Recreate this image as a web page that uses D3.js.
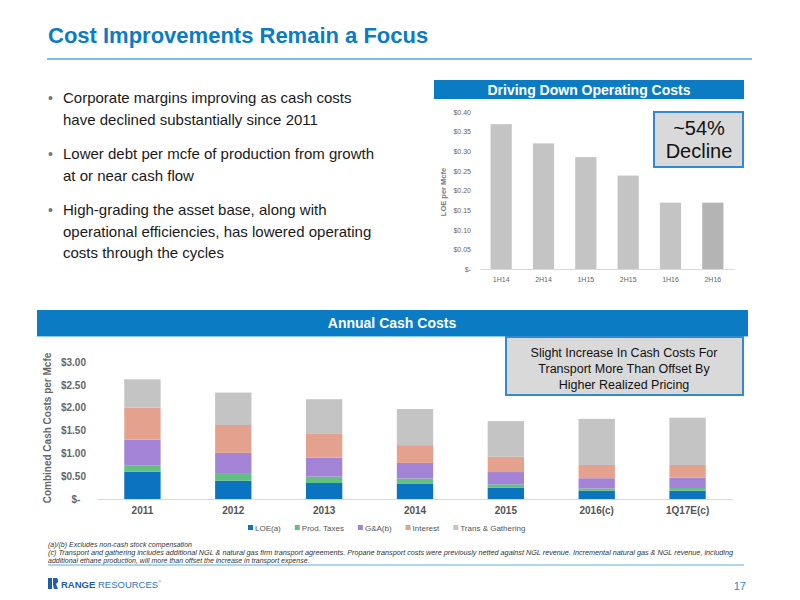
<!DOCTYPE html>
<html>
<head>
<meta charset="utf-8">
<script src="https://cdn.jsdelivr.net/npm/d3@7"></script>
<style>
  body { margin: 0; background: #fff; }
  svg text { font-family: "Liberation Sans", Arial, sans-serif; }
</style>
</head>
<body>
<svg id="slide" width="800" height="600"></svg>
<script>
// top chart: LOE per Mcfe by half-year
let periods = ["1H14", "2H14", "1H15", "2H15", "1H16", "2H16"];
let loePerMcfe = [0.369, 0.320, 0.285, 0.238, 0.169, 0.169];
let topTicks = [0, 0.05, 0.10, 0.15, 0.20, 0.25, 0.30, 0.35, 0.40];

// bottom chart: annual cash costs, stacked
let years = ["2011", "2012", "2013", "2014", "2015", "2016(c)", "1Q17E(c)"];
let loe = [0.60, 0.40, 0.35, 0.34, 0.25, 0.18, 0.18];
let prodTaxes = [0.14, 0.15, 0.14, 0.11, 0.07, 0.05, 0.06];
let gna = [0.56, 0.46, 0.415, 0.34, 0.27, 0.225, 0.225];
let interest = [0.70, 0.61, 0.52, 0.39, 0.335, 0.29, 0.28];
let transGathering = [0.62, 0.71, 0.76, 0.79, 0.78, 1.01, 1.035];
let seriesNames = ["LOE(a)", "Prod. Taxes", "G&A(b)", "Interest", "Trans & Gathering"];
let bottomTicks = [0, 0.5, 1.0, 1.5, 2.0, 2.5, 3.0];

let bullets = [
    ["Corporate margins improving as cash costs", "have declined substantially since 2011"],
    ["Lower debt per mcfe of production from growth", "at or near cash flow"],
    ["High-grading the asset base, along with", "operational efficiencies, has lowered operating", "costs through the cycles"]
];

let footnotes = [
    "(a)/(b) Excludes  non-cash stock compensation",
    "(c) Transport and gathering includes additional NGL & natural gas firm transport agreements.  Propane transport costs were previously netted against NGL revenue.  Incremental natural gas & NGL revenue, including",
    "additional ethane production, will more than offset the increase in transport expense."
];

let blue = "#0b7cc4";
let svg = d3.select("#slide");

// title
svg.append("text")
    .attr("x", 48).attr("y", 43)
    .attr("font-size", 22).attr("font-weight", "bold")
    .attr("fill", blue)
    .text("Cost Improvements Remain a Focus");

svg.append("line")
    .attr("x1", 47).attr("x2", 752).attr("y1", 59).attr("y2", 59)
    .attr("stroke", "#4ea6dc").attr("stroke-width", 1.5);

// bullets
let by = 103;
bullets.forEach(function (lines) {
    svg.append("text").attr("x", 48).attr("y", by)
        .attr("font-size", 14).attr("fill", "#777").text("•");
    lines.forEach(function (l, i) {
        svg.append("text").attr("x", 63).attr("y", by + i * 21.5)
            .attr("font-size", 15).attr("fill", "#1a1a1a").text(l);
    });
    by += lines.length * 21.5 + 13;
});

// ---- top right chart ----
svg.append("rect").attr("x", 434).attr("y", 80).attr("width", 310).attr("height", 19).attr("fill", blue);
svg.append("text").attr("x", 589).attr("y", 95)
    .attr("text-anchor", "middle").attr("font-size", 14).attr("font-weight", "bold")
    .attr("fill", "#fff").text("Driving Down Operating Costs");

let xTop = d3.scaleBand().domain(periods).range([480, 734]).paddingInner(0.5).paddingOuter(0.25);
let yTop = d3.scaleLinear().domain([0, 0.4]).range([269, 112]);

svg.append("g").selectAll("rect")
    .data(periods)
    .join("rect")
    .attr("x", d => xTop(d))
    .attr("width", xTop.bandwidth())
    .attr("y", (d, i) => yTop(loePerMcfe[i]))
    .attr("height", (d, i) => yTop(0) - yTop(loePerMcfe[i]))
    .attr("fill", (d, i) => i === periods.length - 1 ? "#b4b4b4" : "#c4c4c4");

let topYAxis = svg.append("g")
    .attr("transform", "translate(471,0)")
    .call(d3.axisLeft(yTop).tickValues(topTicks).tickSize(0).tickPadding(0)
        .tickFormat(d => d === 0 ? "$-" : "$" + d.toFixed(2)));
topYAxis.select(".domain").remove();
topYAxis.selectAll("text").attr("font-size", 7).attr("fill", "#666");

let topXAxis = svg.append("g")
    .attr("transform", "translate(0,269)")
    .call(d3.axisBottom(xTop).tickSize(0).tickPadding(8));
topXAxis.select(".domain").attr("stroke", "#d9d9d9");
topXAxis.selectAll("text").attr("font-size", 7).attr("fill", "#666");

svg.append("text")
    .attr("transform", "translate(446,192) rotate(-90)")
    .attr("text-anchor", "middle").attr("font-size", 7.5).attr("font-weight", "bold")
    .attr("fill", "#777").text("LOE per Mcfe");

svg.append("rect").attr("x", 654).attr("y", 112).attr("width", 89).attr("height", 55)
    .attr("fill", "#d9d9d9").attr("stroke", "#2f8ad0").attr("stroke-width", 2);
svg.append("text").attr("x", 699).attr("y", 135).attr("text-anchor", "middle")
    .attr("font-size", 20).attr("fill", "#111").text("~54%");
svg.append("text").attr("x", 699).attr("y", 158).attr("text-anchor", "middle")
    .attr("font-size", 20).attr("fill", "#111").text("Decline");

// ---- bottom chart ----
svg.append("rect").attr("x", 37).attr("y", 310).attr("width", 711).attr("height", 26).attr("fill", blue);
svg.append("rect").attr("x", 37).attr("y", 336).attr("width", 711).attr("height", 1).attr("fill", "#8ccaf0");
svg.append("text").attr("x", 392).attr("y", 328)
    .attr("text-anchor", "middle").attr("font-size", 14).attr("font-weight", "bold")
    .attr("fill", "#fff").text("Annual Cash Costs");

let rows = years.map(function (y, i) {
    return { year: y, "LOE(a)": loe[i], "Prod. Taxes": prodTaxes[i], "G&A(b)": gna[i],
        "Interest": interest[i], "Trans & Gathering": transGathering[i] };
});
let stacked = d3.stack().keys(seriesNames)(rows);
let color = d3.scaleOrdinal().domain(seriesNames)
    .range(["#0b74c0", "#62c083", "#a283d6", "#e4a28e", "#c4c4c4"]);

let xBot = d3.scaleBand().domain(years).range([97, 733]).paddingInner(0.6).paddingOuter(0.3);
let yBot = d3.scaleLinear().domain([0, 3]).range([499, 362]);

svg.append("g").selectAll("g")
    .data(stacked)
    .join("g")
    .attr("fill", d => color(d.key))
    .selectAll("rect")
    .data(d => d)
    .join("rect")
    .attr("x", d => xBot(d.data.year))
    .attr("width", xBot.bandwidth())
    .attr("y", d => yBot(d[1]))
    .attr("height", d => yBot(d[0]) - yBot(d[1]));

let botYAxis = svg.append("g")
    .attr("transform", "translate(86,0)")
    .call(d3.axisLeft(yBot).tickValues(bottomTicks).tickSize(0).tickPadding(0)
        .tickFormat(d => d === 0 ? "$-  " : "$" + d.toFixed(2)));
botYAxis.select(".domain").remove();
botYAxis.selectAll("text").attr("font-size", 10).attr("font-weight", "bold").attr("fill", "#666")
    .attr("xml:space", "preserve");

let botXAxis = svg.append("g")
    .attr("transform", "translate(0,499)")
    .call(d3.axisBottom(xBot).tickSize(0).tickPadding(8));
botXAxis.select(".domain").attr("stroke", "#d9d9d9");
botXAxis.selectAll("text").attr("font-size", 10).attr("font-weight", "bold").attr("fill", "#555");

svg.append("text")
    .attr("transform", "translate(51,428) rotate(-90)")
    .attr("text-anchor", "middle").attr("font-size", 10).attr("font-weight", "bold")
    .attr("fill", "#666").text("Combined Cash Costs per Mcfe");

// legend
let legend = svg.append("g").attr("transform", "translate(248,528)");
let lx = 0;
seriesNames.forEach(function (name) {
    let item = legend.append("g").attr("transform", "translate(" + lx + ",0)");
    item.append("rect").attr("x", 0).attr("y", -3).attr("width", 5).attr("height", 5).attr("fill", color(name));
    let t = item.append("text").attr("x", 7).attr("y", 2.5)
        .attr("font-size", 8).attr("fill", "#555").text(name);
    lx += 7 + t.node().getComputedTextLength() + 14;
});

// callout
svg.append("rect").attr("x", 506).attr("y", 337).attr("width", 237).attr("height", 58)
    .attr("fill", "#d9d9d9").attr("stroke", "#2f8ad0").attr("stroke-width", 2);
["Slight Increase In Cash Costs For", "Transport More Than Offset By", "Higher Realized Pricing"]
    .forEach(function (l, i) {
        svg.append("text").attr("x", 624).attr("y", 357 + i * 16).attr("text-anchor", "middle")
            .attr("font-size", 12.5).attr("fill", "#111").text(l);
    });

// footnotes
footnotes.forEach(function (f, i) {
    let t = svg.append("text").attr("x", 48).attr("y", 547 + i * 8.2)
        .attr("font-size", 7).attr("font-style", "italic").attr("fill", "#333").text(f);
    if (i === 1) t.attr("textLength", 685).attr("lengthAdjust", "spacingAndGlyphs");
});
svg.append("line").attr("x1", 48).attr("x2", 744).attr("y1", 565).attr("y2", 565)
    .attr("stroke", "#5aaee0").attr("stroke-width", 1);

// logo
let logo = svg.append("g").attr("transform", "translate(48,578)");
logo.append("path").attr("d", "M0,0 H4 V11 H0 Z M5,0 H9 L10,2 V4 L8,6 L10,11 H6 L5,7 Z").attr("fill", "#1e5ea8");
let logoText = logo.append("text").attr("x", 13).attr("y", 9.5).attr("font-size", 9.5).attr("fill", "#2f74c0");
logoText.append("tspan").attr("font-weight", "bold").attr("fill", "#1e5ea8").text("RANGE ");
logoText.append("tspan").text("RESOURCES");
logoText.append("tspan").attr("font-size", 4).attr("dy", -5).text("®");

svg.append("text").attr("x", 746).attr("y", 590).attr("text-anchor", "end")
    .attr("font-size", 11).attr("fill", "#2f8ad0").text("17");
</script>
</body>
</html>
